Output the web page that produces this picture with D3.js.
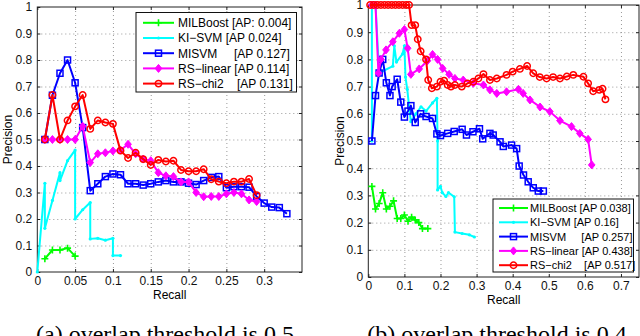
<!DOCTYPE html>
<html>
<head>
<meta charset="utf-8">
<script src="https://cdn.jsdelivr.net/npm/d3@7/dist/d3.min.js"></script>
<style>
body { margin: 0; background: #fff; }
svg { display: block; font-family: "Liberation Sans", Arial, sans-serif; }
.grid line { stroke: #999; stroke-width: 1; stroke-dasharray: 1,3; }
.grid .domain { display: none; }
.tick text { fill: #111; }
.legend text { white-space: pre; }
</style>
</head>
<body>
<svg id="chart" width="640" height="336"></svg>
<script>
// series styling, in plot order
var seriesColors = ["#00ff00", "#00ffff", "#0000ff", "#ff00ff", "#ff0000"];
var seriesMarkers = ["plus", "dot", "square", "diamond", "circle"];

var legendA = ["MILBoost [AP: 0.004]", "KI\u2212SVM [AP 0.024]", "MISVM     [AP 0.127]",
	"RS\u2212linear [AP 0.114]", "RS\u2212chi2    [AP 0.131]"];
var legendB = ["MILBoost [AP 0.038]", "KI\u2212SVM [AP 0.16]", "MISVM     [AP 0.257]",
	"RS\u2212linear [AP 0.438]", "RS\u2212chi2    [AP 0.517]"];

var xTicksA = [0, 0.05, 0.1, 0.15, 0.2, 0.25, 0.3];
var xTicksB = [0, 0.1, 0.2, 0.3, 0.4, 0.5, 0.6, 0.7];
var yTicks = [0, 0.1, 0.2, 0.3, 0.4, 0.5, 0.6, 0.7, 0.8, 0.9, 1];

// (a) overlap threshold 0.5 : [recall, precision]
var milboostA = [[0.01,0.05],[0.02,0.083],[0.03,0.083],[0.04,0.09],[0.05,0.06]];
var kisvmA = [[0,0],[0.01,0.335],[0.01,0.165],[0.02,0.27],[0.03,0.375],[0.03,0.345],[0.04,0.42],
	[0.05,0.46],[0.05,0.2],[0.06,0.235],[0.07,0.262],[0.07,0.125],[0.08,0.127],[0.09,0.12],
	[0.1,0.127],[0.1,0.062],[0.11,0.062]];
var misvmA = [[0.01,0.5],[0.02,0.667],[0.03,0.75],[0.04,0.8],[0.05,0.714],[0.06,0.545],[0.07,0.307],
	[0.08,0.333],[0.09,0.36],[0.1,0.37],[0.11,0.367],[0.12,0.333],[0.13,0.333],[0.14,0.328],
	[0.15,0.333],[0.16,0.34],[0.17,0.345],[0.18,0.34],[0.19,0.34],[0.2,0.335],[0.21,0.33],
	[0.22,0.345],[0.23,0.357],[0.24,0.36],[0.25,0.318],[0.26,0.322],[0.27,0.322],[0.28,0.32],
	[0.29,0.285],[0.3,0.26],[0.31,0.245],[0.32,0.243],[0.33,0.22]];
var rslinearA = [[0.01,0.5],[0.02,0.5],[0.03,0.5],[0.04,0.5],[0.05,0.5],[0.06,0.55],[0.07,0.413],
	[0.08,0.446],[0.09,0.45],[0.1,0.457],[0.11,0.46],[0.12,0.482],[0.13,0.446],[0.14,0.426],
	[0.15,0.42],[0.16,0.375],[0.17,0.363],[0.18,0.36],[0.19,0.34],[0.2,0.34],[0.21,0.3],
	[0.22,0.284],[0.23,0.285],[0.24,0.285],[0.25,0.295],[0.26,0.3],[0.27,0.295],[0.28,0.272],
	[0.29,0.266]];
var rschi2A = [[0.01,0.5],[0.02,0.668],[0.03,0.5],[0.04,0.572],[0.05,0.625],[0.06,0.668],[0.07,0.54],
	[0.08,0.572],[0.09,0.564],[0.1,0.559],[0.11,0.458],[0.12,0.43],[0.13,0.45],[0.14,0.426],
	[0.15,0.404],[0.16,0.423],[0.17,0.417],[0.18,0.42],[0.19,0.385],[0.2,0.38],[0.21,0.38],
	[0.22,0.388],[0.23,0.35],[0.24,0.341],[0.25,0.335],[0.26,0.341],[0.27,0.341],[0.28,0.351],
	[0.29,0.29]];

// (b) overlap threshold 0.4
var milboostB = [[0.01,0.333],[0.02,0.25],[0.03,0.27],[0.04,0.31],[0.05,0.25],[0.06,0.26],[0.07,0.28],
	[0.08,0.215],[0.09,0.215],[0.1,0.228],[0.11,0.205],[0.12,0.22],[0.13,0.21],[0.14,0.2],
	[0.15,0.178],[0.165,0.178]];
var kisvmB = [[0.01,0.5],[0.01,1],[0.02,1],[0.03,0.75],[0.068,0.775],[0.072,0.85],[0.078,0.79],
	[0.095,0.82],[0.1,0.85],[0.103,0.735],[0.108,0.69],[0.114,0.614],[0.118,0.571],[0.132,0.6],
	[0.146,0.626],[0.16,0.61],[0.178,0.64],[0.19,0.657],[0.192,0.5],[0.192,0.32],[0.2,0.333],
	[0.205,0.31],[0.215,0.296],[0.222,0.31],[0.238,0.295],[0.24,0.165],[0.26,0.16],[0.28,0.155],
	[0.294,0.147]];
var misvmB = [[0.01,0.5],[0.02,0.667],[0.03,0.75],[0.04,0.8],[0.05,0.714],[0.06,0.667],[0.066,0.7],
	[0.08,0.727],[0.09,0.643],[0.1,0.588],[0.11,0.61],[0.118,0.63],[0.13,0.568],[0.145,0.6],
	[0.16,0.59],[0.178,0.583],[0.19,0.526],[0.2,0.52],[0.22,0.528],[0.238,0.535],[0.26,0.543],
	[0.272,0.522],[0.29,0.534],[0.308,0.545],[0.317,0.508],[0.337,0.528],[0.346,0.522],
	[0.365,0.497],[0.374,0.48],[0.397,0.485],[0.411,0.472],[0.418,0.408],[0.43,0.375],
	[0.443,0.35],[0.457,0.328],[0.471,0.316],[0.485,0.316]];
var rslinearB = [[0.01,1],[0.02,1],[0.028,0.75],[0.035,0.8],[0.049,0.835],[0.068,0.865],[0.086,0.896],
	[0.1,0.91],[0.109,0.841],[0.118,0.745],[0.141,0.765],[0.164,0.795],[0.178,0.818],[0.192,0.8],
	[0.206,0.767],[0.224,0.745],[0.24,0.73],[0.263,0.724],[0.291,0.712],[0.319,0.706],
	[0.337,0.688],[0.356,0.675],[0.383,0.681],[0.416,0.69],[0.429,0.675],[0.448,0.651],
	[0.476,0.625],[0.503,0.608],[0.531,0.575],[0.563,0.553],[0.586,0.528],[0.609,0.506],
	[0.619,0.412]];
var rschi2B = [[0.005,1],[0.015,1],[0.025,1],[0.035,1],[0.045,1],[0.055,1],[0.065,1],[0.075,1],
	[0.085,1],[0.095,1],[0.105,1],[0.113,1],[0.12,0.926],[0.13,0.926],[0.137,0.874],[0.145,0.83],
	[0.16,0.8],[0.166,0.724],[0.176,0.694],[0.19,0.7],[0.2,0.718],[0.21,0.722],[0.22,0.706],
	[0.229,0.7],[0.24,0.706],[0.259,0.7],[0.275,0.712],[0.291,0.718],[0.305,0.73],[0.319,0.746],
	[0.337,0.724],[0.356,0.73],[0.383,0.743],[0.4,0.755],[0.42,0.765],[0.44,0.776],[0.457,0.749],
	[0.475,0.735],[0.494,0.73],[0.512,0.735],[0.531,0.73],[0.55,0.737],[0.568,0.743],
	[0.596,0.736],[0.609,0.712],[0.623,0.683],[0.64,0.688],[0.649,0.692],[0.657,0.653]];

var svg = d3.select("#chart");

function addMarker(sel, type, color) {
	if (type == "plus") {
		sel.append("path").attr("d", "M-3.5,0H3.5M0,-3.5V3.5")
			.attr("stroke", color).attr("stroke-width", 1.6).attr("fill", "none");
	} else if (type == "dot") {
		sel.append("circle").attr("r", 1.6).attr("fill", color);
	} else if (type == "square") {
		sel.append("rect").attr("x", -3).attr("y", -3).attr("width", 6).attr("height", 6)
			.attr("fill", "none").attr("stroke", color).attr("stroke-width", 1.5);
	} else if (type == "diamond") {
		sel.append("path").attr("d", "M0,-4L3.3,0L0,4L-3.3,0Z")
			.attr("fill", color).attr("stroke", color).attr("stroke-width", 1);
	} else {
		sel.append("circle").attr("r", 3.2)
			.attr("fill", "none").attr("stroke", color).attr("stroke-width", 1.5);
	}
}

function drawPanel(p) {
	var x = d3.scaleLinear().domain([0, p.xmax]).range([p.left, p.right]);
	var y = d3.scaleLinear().domain([0, 1]).range([p.bottom, p.top]);
	var g = svg.append("g");

	// dotted grid
	g.append("g").attr("class", "grid")
		.attr("transform", "translate(0," + p.bottom + ")")
		.call(d3.axisBottom(x).tickValues(p.xTicks.slice(1)).tickSize(p.top - p.bottom).tickFormat(""));
	g.append("g").attr("class", "grid")
		.attr("transform", "translate(" + p.left + ",0)")
		.call(d3.axisLeft(y).tickValues(yTicks.slice(1, -1)).tickSize(p.left - p.right).tickFormat(""));

	// axes with inward ticks on all sides
	var fmt = function(d) { return String(d); };
	var ax = [
		g.append("g").attr("transform", "translate(0," + p.bottom + ")")
			.call(d3.axisBottom(x).tickValues(p.xTicks).tickSizeInner(-3).tickSizeOuter(0).tickPadding(4.5).tickFormat(fmt)),
		g.append("g").attr("transform", "translate(0," + p.top + ")")
			.call(d3.axisTop(x).tickValues(p.xTicks).tickSizeInner(-3).tickSizeOuter(0).tickFormat("")),
		g.append("g").attr("transform", "translate(" + p.left + ",0)")
			.call(d3.axisLeft(y).tickValues(yTicks).tickSizeInner(-3).tickSizeOuter(0).tickPadding(5).tickFormat(fmt)),
		g.append("g").attr("transform", "translate(" + p.right + ",0)")
			.call(d3.axisRight(y).tickValues(yTicks).tickSizeInner(-3).tickSizeOuter(0).tickFormat(""))
	];
	ax.forEach(function(a) {
		a.attr("font-size", 12).attr("font-family", null);
		a.select(".domain").remove();
		a.selectAll(".tick line").attr("stroke", "#222");
	});
	g.append("rect").attr("x", p.left).attr("y", p.top)
		.attr("width", p.right - p.left).attr("height", p.bottom - p.top)
		.attr("fill", "none").attr("stroke", "#222").attr("stroke-width", 1);

	// curves
	var line = d3.line().x(function(d) { return x(d[0]); }).y(function(d) { return y(d[1]); });
	p.series.forEach(function(s, i) {
		var sg = g.append("g");
		sg.append("path").datum(s).attr("d", line)
			.attr("fill", "none").attr("stroke", seriesColors[i]).attr("stroke-width", 2)
			.attr("stroke-linejoin", "round");
		sg.selectAll("g.pt").data(s).enter().append("g").attr("class", "pt")
			.attr("transform", function(d) { return "translate(" + x(d[0]) + "," + y(d[1]) + ")"; })
			.each(function() { addMarker(d3.select(this), seriesMarkers[i], seriesColors[i]); });
	});

	// labels
	g.append("text").attr("x", (p.left + p.right) / 2).attr("y", p.bottom + 27)
		.attr("text-anchor", "middle").attr("font-size", 12).text("Recall");
	g.append("text").attr("transform", "translate(" + p.ylabelX + "," + (p.top + p.bottom) / 2 + ") rotate(-90)")
		.attr("text-anchor", "middle").attr("font-size", 12).text("Precision");
	svg.append("text").attr("x", p.capX).attr("y", 342)
		.attr("text-anchor", "middle").attr("font-family", "'Liberation Serif', 'Times New Roman', serif")
		.attr("font-size", 24).text(p.caption);

	// legend
	var L = p.legend;
	var lg = g.append("g").attr("class", "legend");
	lg.append("rect").attr("x", L.x).attr("y", L.y).attr("width", L.w).attr("height", L.h)
		.attr("fill", "#fff").attr("stroke", "#111").attr("stroke-width", 1);
	L.labels.forEach(function(t, i) {
		var cy = L.row0 + i * L.step;
		lg.append("line").attr("x1", L.lx0).attr("x2", L.lx1).attr("y1", cy).attr("y2", cy)
			.attr("stroke", seriesColors[i]).attr("stroke-width", 2);
		var m = lg.append("g").attr("transform", "translate(" + (L.lx0 + L.lx1) / 2 + "," + cy + ")");
		addMarker(m, seriesMarkers[i], seriesColors[i]);
		lg.append("text").attr("x", L.tx).attr("y", cy).attr("dy", "0.36em")
			.attr("font-size", L.fs).attr("xml:space", "preserve").text(t);
	});
}

drawPanel({
	left: 37.3, right: 302, top: 7, bottom: 272, xmax: 0.35, xTicks: xTicksA,
	ylabelX: 12, capX: 165, caption: "(a) overlap threshold is 0.5",
	series: [milboostA, kisvmA, misvmA, rslinearA, rschi2A],
	legend: { x: 136, y: 12.5, w: 160.5, h: 79.5, row0: 22.8, step: 15.2, lx0: 143, lx1: 174, tx: 178, fs: 12, labels: legendA }
});
drawPanel({
	left: 368.3, right: 639, top: 5, bottom: 277, xmax: 0.75, xTicks: xTicksB,
	ylabelX: 344, capX: 497, caption: "(b) overlap threshold is 0.4",
	series: [milboostB, kisvmB, misvmB, rslinearB, rschi2B],
	legend: { x: 493, y: 199, w: 140.5, h: 73, row0: 208, step: 14.3, lx0: 499, lx1: 528, tx: 530, fs: 11, labels: legendB }
});
</script>
</body>
</html>
